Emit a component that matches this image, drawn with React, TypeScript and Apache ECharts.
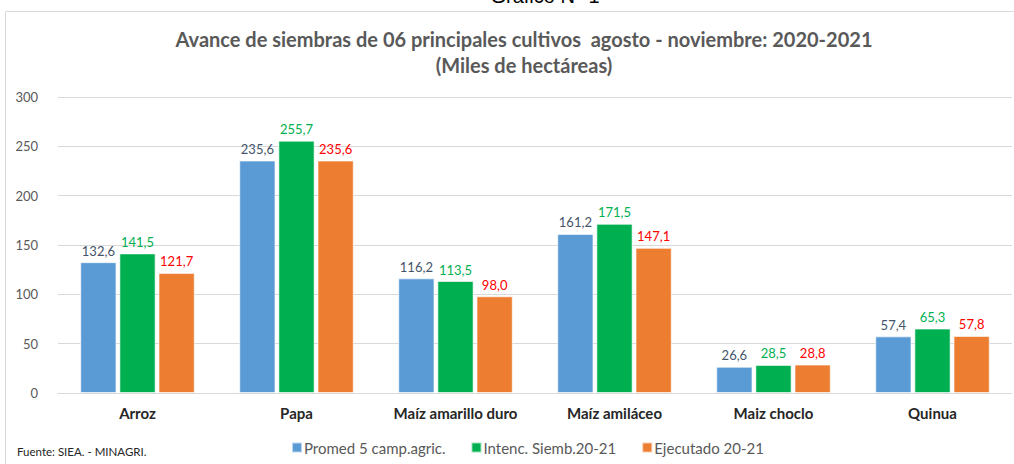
import React, { useEffect, useRef } from "react";
import * as echarts from "echarts";

const categories = ["Arroz", "Papa", "Maíz amarillo duro", "Maíz amiláceo", "Maiz choclo", "Quinua"];
const promedio = [132.6, 235.6, 116.2, 161.2, 26.6, 57.4];
const intencion = [141.5, 255.7, 113.5, 171.5, 28.5, 65.3];
const ejecutado = [121.7, 235.6, 98.0, 147.1, 28.8, 57.8];
const seriesNames = ["Promed 5 camp.agric.", "Intenc. Siemb.20-21", "Ejecutado 20-21"];
const yTicks = { min: 0, max: 300, interval: 50 };

const FONT = "Lato, 'Open Sans', sans-serif";

function fmt(v: number) {
  return v.toFixed(1).replace(".", ",");
}

export default function App() {
  const ref = useRef<HTMLDivElement>(null);
  useEffect(() => {
    if (!ref.current) return;
    const chart = echarts.init(ref.current, null, { renderer: "svg" });
    const mk = (name: string, data: number[], color: string, labelColor: string) => ({
      name,
      type: "bar",
      data,
      barGap: "8%",
      barCategoryGap: "28%",
      itemStyle: { color, borderColor: "rgba(255,255,255,0.6)", borderWidth: 1 },
      label: {
        show: true,
        position: "top",
        distance: 5,
        color: labelColor,
        fontFamily: FONT,
        fontSize: 13,
        formatter: (p: any) => fmt(p.value),
      },
    });
    chart.setOption({
      animation: false,
      backgroundColor: "#ffffff",
      textStyle: { fontFamily: FONT },
      title: {
        text: "Avance de siembras de 06 principales cultivos  agosto - noviembre: 2020-2021\n(Miles de hectáreas)",
        left: 519,
        textAlign: "center",
        top: 21,
        textStyle: {
          fontFamily: FONT,
          fontSize: 20,
          fontWeight: "bold",
          color: "#595959",
          lineHeight: 26,
        },
      },
      legend: {
        bottom: 4,
        left: 286,
        itemWidth: 10,
        itemHeight: 10,
        itemGap: 25,
        icon: "rect",
        textStyle: { fontFamily: FONT, fontSize: 15, color: "#595959", padding: [0, 0, 0, -3] },
        data: seriesNames,
      },
      grid: { left: 58, right: 2, top: 97, bottom: 71 },
      xAxis: {
        type: "category",
        data: categories,
        axisLine: { lineStyle: { color: "#d9d9d9" } },
        axisTick: { show: false },
        axisLabel: {
          interval: 0,
          color: "#262626",
          fontWeight: "bold",
          fontSize: 15,
          fontFamily: FONT,
          margin: 12,
        },
      },
      yAxis: {
        type: "value",
        min: yTicks.min,
        max: yTicks.max,
        interval: yTicks.interval,
        axisLine: { show: false },
        axisTick: { show: false },
        splitLine: { lineStyle: { color: "#d9d9d9" } },
        axisLabel: { color: "#595959", fontSize: 13, fontFamily: FONT, margin: 20 },
      },
      graphic: [
        {
          type: "rect",
          shape: { x: 5.5, y: 11.5, width: 1040, height: 480 },
          style: { fill: "none", stroke: "#d9d9d9", lineWidth: 1 },
          silent: true,
        },
        {
          type: "text",
          x: 545,
          y: 6,
          style: {
            text: "Gráfico N° 1",
            font: "20px 'Liberation Sans', Arial, sans-serif",
            fill: "#000000",
            textAlign: "center",
            textVerticalAlign: "bottom",
          },
        },
        {
          type: "text",
          x: 17,
          y: 451,
          style: {
            text: "Fuente: SIEA. - MINAGRI.",
            font: "11.5px " + FONT,
            fill: "#262626",
            textVerticalAlign: "middle",
          },
        },
      ],
      series: [
        mk(seriesNames[0], promedio, "#5B9BD5", "#44546A"),
        mk(seriesNames[1], intencion, "#00B050", "#00B050"),
        mk(seriesNames[2], ejecutado, "#ED7D31", "#FF0000"),
      ],
    });
    return () => chart.dispose();
  }, []);
  return (
    <div
      ref={ref}
      style={{ position: "fixed", left: 0, top: 0, width: 1014, height: 464 }}
    />
  );
}
